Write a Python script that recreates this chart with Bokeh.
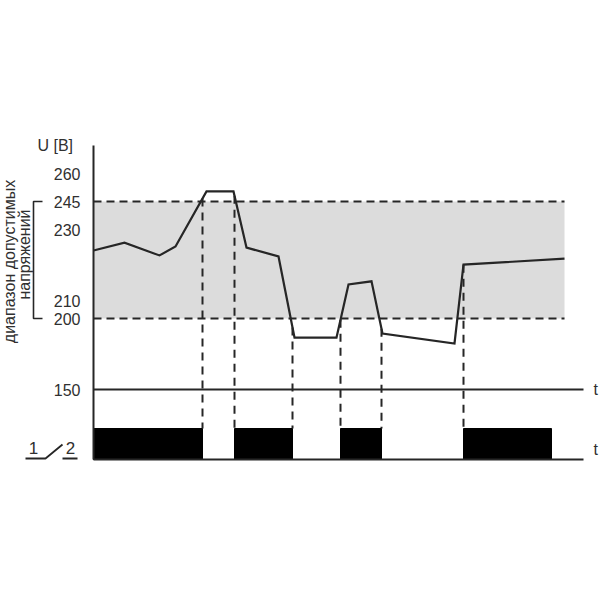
import numpy as np
from bokeh.plotting import figure
from bokeh.models import Range1d
from bokeh.core.properties import value
from bokeh.embed import file_html
from bokeh.resources import INLINE

# ---------------- data ----------------
tick_volts = [260, 245, 230, 210, 200, 150]
tick_labels = ["260", "245", "230", "210", "200", "150"]

# voltage curve (time in arbitrary units, voltage in V)
time_pts = [0, 31, 66, 82, 113, 140, 153, 185, 201, 243, 255, 278, 289, 361, 370, 471]
volt_pts = [224.1, 226.3, 222.7, 225.2, 250.4, 250.4, 224.9, 222.4, 186.6, 186.6,
            214.5, 215.4, 189.4, 182.4, 220.1, 221.8]

band_low, band_high = 200, 245
band_end = 471

# relay switching moments and "on" intervals (contact 1-2 closed)
switch_times = [109, 141, 199, 247, 288, 370]
relay_on_start = [0, 141, 247, 370]
relay_on_end = [109, 199, 288, 458]
time_axis_end = 490

y_axis_title = "U [B]"
range_label = ["диапазон допустимых", "напряжений"]
time_label = "t"
contact_labels = ["1", "2"]

# ---------------- layout (schematic, non-uniform voltage axis) ----------------
AXIS_LEVELS = [173, 201, 229, 300, 318, 389]   # vertical level of each tick
RELAY_TOP, RELAY_BASE = 428, 459
AXIS_TOP = 145

_asc_v = tick_volts[::-1]
_asc_l = AXIS_LEVELS[::-1]


def vy(v):
    return np.interp(np.asarray(v, dtype=float), _asc_v, _asc_l)


FONT = value("Liberation Sans")
TXT = "#303030"
LINE = "#262626"

p = figure(width=600, height=600, x_range=Range1d(-93, 507), y_range=Range1d(600, 0),
           output_backend="svg", toolbar_location=None, min_border=0,
           x_axis_location=None, y_axis_location=None, background_fill_color="white")
p.grid.visible = False
p.outline_line_color = None

# admissible band
p.quad(left=[0], right=[band_end], bottom=[float(vy(band_low))], top=[float(vy(band_high))],
       fill_color="#dcdcdc", line_color=None)

# threshold dashed lines
p.segment(x0=[0, 0], x1=[band_end, band_end],
          y0=vy([band_high, band_low]), y1=vy([band_high, band_low]),
          line_color=LINE, line_width=2, line_dash="8 5")

# bracket for admissible range
bx0, bx1 = -60, -51
p.line(x=[bx1, bx0, bx0, bx1], y=[float(vy(band_high)), float(vy(band_high)),
                                  float(vy(band_low)), float(vy(band_low))],
       line_color=LINE, line_width=1.6)

# dashed verticals at the switching moments
curve_levels = vy(volt_pts)
sw_top = np.interp(switch_times, time_pts, curve_levels)
p.segment(x0=switch_times, x1=switch_times, y0=sw_top, y1=[RELAY_TOP] * len(switch_times),
          line_color=LINE, line_width=2, line_dash="8 6")

# relay "on" bars
p.quad(left=relay_on_start, right=relay_on_end, top=[RELAY_TOP] * 4, bottom=[RELAY_BASE] * 4,
       fill_color="black", line_color="black", line_width=1)

# voltage curve
p.line(time_pts, curve_levels, line_color=LINE, line_width=2.2, line_join="miter")

# axes: vertical, 150 V time axis, relay time axis
p.segment(x0=[0], x1=[0], y0=[AXIS_TOP], y1=[RELAY_BASE], line_color=LINE, line_width=2)
p.segment(x0=[0, 0], x1=[time_axis_end, time_axis_end],
          y0=[float(vy(150)), RELAY_BASE], y1=[float(vy(150)), RELAY_BASE],
          line_color=LINE, line_width=2)

# tick labels
p.text(x=[-13] * len(tick_labels), y=vy(tick_volts), text=tick_labels,
       text_font=FONT, text_font_size="16px", text_color=TXT,
       text_align="right", text_baseline="middle")

# axis title
p.text(x=[-56], y=[AXIS_TOP], text=[y_axis_title], text_font=FONT, text_font_size="16px",
       text_color=TXT, text_align="left", text_baseline="middle")

# t labels
p.text(x=[500, 500], y=[float(vy(150)), 449], text=[time_label, time_label], text_font=FONT,
       text_font_size="16px", text_color=TXT, text_align="left", text_baseline="middle")

# rotated range label
p.text(x=[-84, -69], y=[261, 254], text=range_label, angle=np.pi / 2,
       text_font=FONT, text_font_size="16px", text_color=TXT,
       text_align="center", text_baseline="middle")

# contact symbol 1 / 2
p.text(x=[-60, -23], y=[447, 447], text=contact_labels, text_font=FONT, text_font_size="17px",
       text_color=TXT, text_align="center", text_baseline="middle")
p.line(x=[-68, -48, -31], y=[458, 458, 444], line_color=LINE, line_width=1.8)
p.line(x=[-31, -16], y=[458, 458], line_color=LINE, line_width=1.8)

open("out.html", "w").write(file_html(p, INLINE))
